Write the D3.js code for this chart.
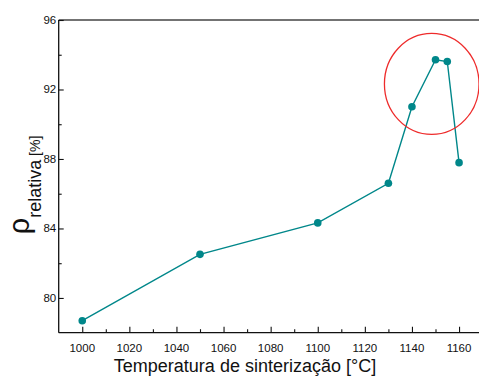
<!DOCTYPE html>
<html>
<head>
<meta charset="utf-8">
<script src="https://cdn.jsdelivr.net/npm/d3@7"></script>
<style>
  html, body { margin: 0; padding: 0; background: #fff; }
  svg { display: block; font-family: "Liberation Sans", Arial, sans-serif; }
</style>
</head>
<body>
<svg id="chart" width="479" height="376"></svg>
<script>
// Sintering temperature (°C) vs relative density (%)
const temperatures = [1000, 1050, 1100, 1130, 1140, 1150, 1155, 1160];
const densities    = [78.69, 82.51, 84.32, 86.60, 91.01, 93.71, 93.61, 87.79];

const xMajorTicks = [1000, 1020, 1040, 1060, 1080, 1100, 1120, 1140, 1160];
const xMinorTicks = [1010, 1030, 1050, 1070, 1090, 1110, 1130, 1150];
const yMajorTicks = [80, 84, 88, 92, 96];
const yMinorTicks = [82, 86, 90, 94];

// highlighted region around the density maximum
const highlightCenter = [1148.4, 92.32];

const svg = d3.select("#chart");
const plotLeft = 58.7, plotTop = 20, plotBottom = 332.7;

const x = d3.scaleLinear().domain([990, 1170]).range([plotLeft, plotLeft + 180 * 2.355]);
const y = d3.scaleLinear().domain([78, 96]).range([plotBottom, plotTop]);

const lineColor = "#00878a";

// frame: top border
svg.append("line")
  .attr("x1", plotLeft).attr("x2", 479)
  .attr("y1", plotTop).attr("y2", plotTop)
  .attr("stroke", "#444").attr("stroke-width", 1.3);

// x axis (ticks point inward)
const xAxis = svg.append("g").attr("transform", `translate(0,${plotBottom})`)
  .call(d3.axisTop(x).tickValues(xMajorTicks).tickSize(6).tickFormat(""));
xAxis.select(".domain").remove();
const xMinor = svg.append("g").attr("transform", `translate(0,${plotBottom})`)
  .call(d3.axisTop(x).tickValues(xMinorTicks).tickSize(3.5).tickFormat(""));
xMinor.select(".domain").remove();
svg.append("line")
  .attr("x1", plotLeft).attr("x2", 479)
  .attr("y1", plotBottom).attr("y2", plotBottom)
  .attr("stroke", "#111").attr("stroke-width", 1.3);
svg.append("g").selectAll("text").data(xMajorTicks).join("text")
  .attr("x", d => x(d)).attr("y", 351.5)
  .attr("text-anchor", "middle")
  .attr("font-size", 11.5).attr("fill", "#111")
  .text(d => d);

// y axis (ticks point inward)
const yAxis = svg.append("g").attr("transform", `translate(${plotLeft},0)`)
  .call(d3.axisRight(y).tickValues(yMajorTicks).tickSize(5).tickFormat(""));
yAxis.select(".domain").remove();
const yMinor = svg.append("g").attr("transform", `translate(${plotLeft},0)`)
  .call(d3.axisRight(y).tickValues(yMinorTicks).tickSize(3).tickFormat(""));
yMinor.select(".domain").remove();
svg.append("line")
  .attr("x1", plotLeft).attr("x2", plotLeft)
  .attr("y1", plotTop).attr("y2", plotBottom)
  .attr("stroke", "#111").attr("stroke-width", 1.3);
svg.append("g").selectAll("text").data(yMajorTicks).join("text")
  .attr("x", plotLeft - 2.5).attr("y", d => y(d) + 4)
  .attr("text-anchor", "end")
  .attr("font-size", 11.5).attr("fill", "#111")
  .text(d => d);

svg.selectAll(".tick line").attr("stroke", "#111").attr("stroke-width", 1.1);

// data line and markers
const pts = temperatures.map((t, i) => [t, densities[i]]);
svg.append("path")
  .datum(pts)
  .attr("fill", "none")
  .attr("stroke", lineColor)
  .attr("stroke-width", 1.4)
  .attr("d", d3.line().x(d => x(d[0])).y(d => y(d[1])));
svg.append("g").selectAll("circle").data(pts).join("circle")
  .attr("cx", d => x(d[0])).attr("cy", d => y(d[1]))
  .attr("r", 3.8).attr("fill", lineColor);

// highlight ellipse
svg.append("ellipse")
  .attr("cx", x(highlightCenter[0])).attr("cy", y(highlightCenter[1]))
  .attr("rx", 47.3).attr("ry", 50.5)
  .attr("fill", "none").attr("stroke", "#ee2b2b").attr("stroke-width", 1.3);

// axis titles
svg.append("text")
  .attr("x", 245).attr("y", 372)
  .attr("text-anchor", "middle")
  .attr("font-size", 18).attr("fill", "#111")
  .text("Temperatura de sinterização [°C]");

const yTitle = svg.append("text")
  .attr("transform", "translate(29,185) rotate(-90)")
  .attr("text-anchor", "middle")
  .attr("fill", "#111");
yTitle.append("tspan").attr("font-size", 29).text("ρ");
yTitle.append("tspan").attr("font-size", 18).attr("dy", 12).text("relativa");
yTitle.append("tspan").attr("font-size", 14).attr("dy", -1).text(" [%]");
</script>
</body>
</html>
